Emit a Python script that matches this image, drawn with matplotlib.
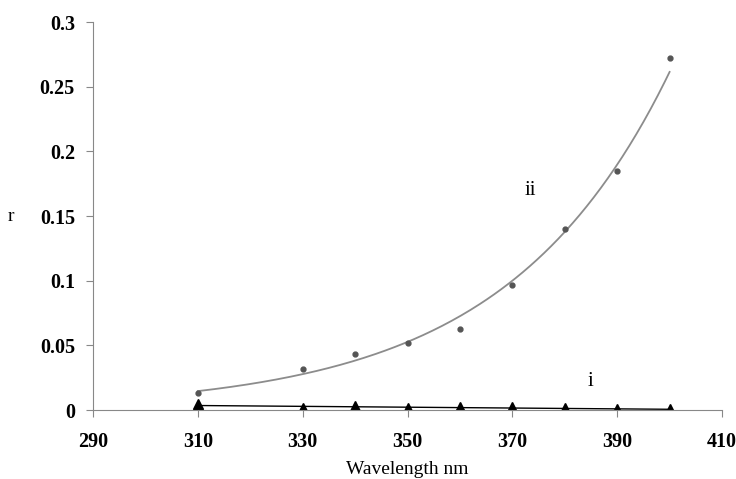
import numpy as np
import matplotlib.pyplot as plt

plt.rcParams['font.family'] = ['Liberation Serif', 'DejaVu Serif']

# Данные
wavelength = np.array([310, 330, 340, 350, 360, 370, 380, 390, 400])
r_ii = np.array([0.013, 0.032, 0.0435, 0.052, 0.063, 0.097, 0.140, 0.185, 0.272])
r_i = np.array([0.0045, 0.0015, 0.0028, 0.0012, 0.0022, 0.0022, 0.0012, 0.0010, 0.0005])

x_ticks = [290, 310, 330, 350, 370, 390, 410]
y_ticks = [0, 0.05, 0.1, 0.15, 0.2, 0.25, 0.3]
y_tick_labels = ['0', '0.05', '0.1', '0.15', '0.2', '0.25', '0.3']

# Линии тренда: экспоненциальная для ii, линейная для i
b, ln_a = np.polyfit(wavelength, np.log(r_ii), 1)
k, c = np.polyfit(wavelength, r_i, 1)
xs = np.linspace(wavelength.min(), wavelength.max(), 200)

fig = plt.figure(figsize=(7.36, 4.79), dpi=100)
ax = fig.add_axes([0.1264, 0.144, 0.8546, 0.81])

ax.plot(xs, np.exp(ln_a + b * xs), color='#8c8c8c', linewidth=1.3)
ax.plot(wavelength, r_ii, 'o', color='#555555', markersize=3.5, linestyle='none')
ax.plot(xs, k * xs + c, color='black', linewidth=1.0)
ax.plot(wavelength, r_i, '^', color='black', markersize=7, linestyle='none')

ax.text(373.4, 0.170, 'ii', fontsize=15, ha='center', va='center')
ax.text(384.9, 0.0224, 'i', fontsize=15, ha='center', va='center')

ax.set_xlim(290, 410)
ax.set_ylim(0, 0.3)
ax.set_xticks(x_ticks)
ax.set_yticks(y_ticks)
ax.set_yticklabels(y_tick_labels)
for lbl in ax.get_xticklabels() + ax.get_yticklabels():
    lbl.set_fontweight('bold')
    lbl.set_fontsize(14.5)

ax.spines['top'].set_visible(False)
ax.spines['right'].set_visible(False)
for s in ('left', 'bottom'):
    ax.spines[s].set_color('#888888')
    ax.spines[s].set_linewidth(0.8)
ax.tick_params(direction='out', length=5, color='#888888', width=0.8)
ax.tick_params(axis='x', pad=11)
ax.tick_params(axis='y', pad=8)

ax.set_xlabel('Wavelength nm', fontsize=14, labelpad=6)
ax.set_ylabel('r', fontsize=14, rotation=0, labelpad=0, va='center')
ax.yaxis.set_label_coords(-0.13, 0.5)

plt.savefig('out.png', dpi=100)
